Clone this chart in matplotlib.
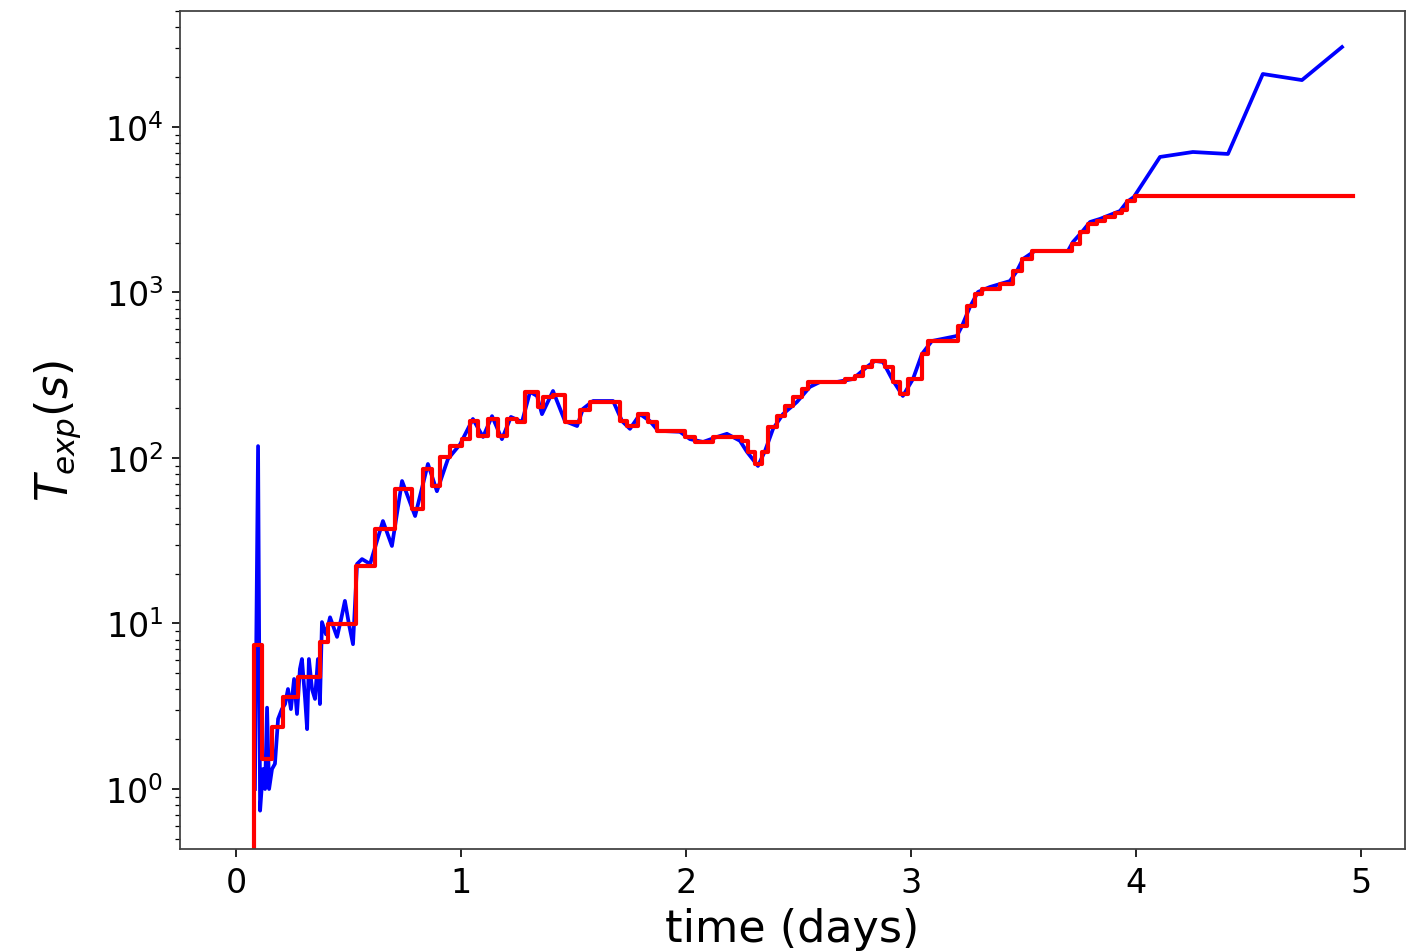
import numpy as np
import matplotlib
matplotlib.use("Agg")
import matplotlib.pyplot as plt

# Blue series: raw T_exp (s) vs time (days)
blue_t = [0.084, 0.098, 0.107, 0.120, 0.129, 0.138, 0.147, 0.160, 0.173, 0.187,
          0.204, 0.218, 0.231, 0.244, 0.258, 0.271, 0.284, 0.293, 0.307, 0.316,
          0.324, 0.338, 0.351, 0.364, 0.373, 0.382, 0.400, 0.418, 0.436, 0.449,
          0.467, 0.484, 0.502, 0.520, 0.538, 0.560, 0.596, 0.653, 0.693, 0.738,
          0.796, 0.853, 0.893, 0.942, 0.996, 1.053, 1.098, 1.138, 1.182, 1.222,
          1.271, 1.307, 1.338, 1.360, 1.409, 1.462, 1.516, 1.542, 1.587, 1.676,
          1.716, 1.751, 1.796, 1.840, 1.876, 1.973, 2.018, 2.076, 2.138, 2.182,
          2.240, 2.271, 2.320, 2.351, 2.387, 2.431, 2.493, 2.551, 2.596, 2.671,
          2.742, 2.804, 2.840, 2.876, 2.916, 2.964, 3.009, 3.049, 3.093, 3.204,
          3.227, 3.262, 3.298, 3.351, 3.440, 3.471, 3.498, 3.551, 3.698, 3.720,
          3.760, 3.796, 3.840, 3.929, 3.960, 3.991, 4.107, 4.253, 4.409, 4.564,
          4.738, 4.916]
blue_v = [1.0, 118, 0.74, 1.32, 1.0, 3.1, 1.0, 1.32, 1.42, 2.65,
          3.04, 3.26, 4.02, 3.04, 4.62, 2.84, 5.31, 6.1, 3.5, 2.3,
          6.1, 4.0, 3.5, 6.1, 3.26, 10.2, 8.6, 10.9, 9.3, 8.3,
          10.6, 13.7, 9.9, 7.5, 22.9, 24.5, 22.9, 41.6, 29.4, 72.6,
          44.6, 92, 63, 98.6, 121, 172, 134, 179, 130, 177,
          165, 251, 237, 184, 254, 167, 156, 198, 221, 221,
          167, 150, 184, 167, 146, 144, 130, 125, 134, 140,
          127, 109, 89.5, 110, 150, 184, 218, 269, 288, 288,
          300, 355, 386, 380, 300, 237, 300, 425, 509, 546,
          628, 817, 1007, 1079, 1172, 1348, 1593, 1783, 1783, 2018,
          2321, 2666, 2782, 3106, 3522, 3777, 6590, 7060, 6870, 20900,
          19200, 30400]

# Red series: step (piecewise constant) T_exp (s)
red_t = [0.080, 0.080, 0.116, 0.160, 0.209, 0.276, 0.373, 0.409, 0.533, 0.618,
         0.707, 0.782, 0.831, 0.871, 0.907, 0.951, 1.004, 1.040, 1.076, 1.120,
         1.164, 1.204, 1.249, 1.284, 1.342, 1.364, 1.409, 1.462, 1.529, 1.573,
         1.707, 1.738, 1.787, 1.831, 1.871, 1.996, 2.040, 2.120, 2.249, 2.276,
         2.307, 2.338, 2.364, 2.404, 2.440, 2.476, 2.516, 2.542, 2.707, 2.751,
         2.787, 2.827, 2.884, 2.920, 2.951, 2.987, 3.049, 3.076, 3.209, 3.249,
         3.284, 3.316, 3.396, 3.453, 3.493, 3.538, 3.716, 3.751, 3.787, 3.827,
         3.862, 3.907, 3.938, 3.960, 3.996, 4.964]
red_v = [0.3, 7.42, 1.52, 2.37, 3.60, 4.75, 7.73, 9.93, 22.3, 37.2,
         65.0, 49.2, 85.9, 67.7, 101, 118, 130, 167, 136, 172,
         136, 172, 165, 251, 203, 234, 240, 165, 195, 218,
         167, 156, 184, 165, 146, 134, 125, 134, 127, 109,
         92, 109, 154, 179, 206, 234, 261, 288, 300, 313,
         355, 386, 355, 288, 244, 300, 425, 509, 628, 829,
         979, 1050, 1125, 1348, 1593, 1783, 1963, 2321, 2594, 2704,
         2861, 3023, 3150, 3555, 3830, 3830]

x_ticks = [0, 1, 2, 3, 4, 5]

fig = plt.figure(figsize=(14.07, 9.53), dpi=100)
ax = fig.add_axes([180/1407, 1-850/953, 1225/1407, 838/953])

ax.plot(blue_t, blue_v, color='blue', lw=2.7)
ax.plot(red_t, red_v, color='red', lw=3.0, drawstyle='steps-post')

ax.set_yscale('log')
ax.set_xlim(-0.249, 5.196)
ax.set_ylim(0.434, 50200)
ax.set_xticks(x_ticks)
ax.set_xticklabels([str(v) for v in x_ticks])

ax.tick_params(axis='both', which='major', labelsize=24, length=6, width=1.2, pad=6)
ax.tick_params(axis='y', which='minor', length=3.5, width=0.9)
for s in ax.spines.values():
    s.set_color('#444444')
    s.set_linewidth(1.3)

ax.set_xlabel('time (days)', fontsize=32, labelpad=6)
ax.set_ylabel(r'$T_{exp}(s)$', fontsize=32, labelpad=16)

fig.savefig('out.png', dpi=100)
